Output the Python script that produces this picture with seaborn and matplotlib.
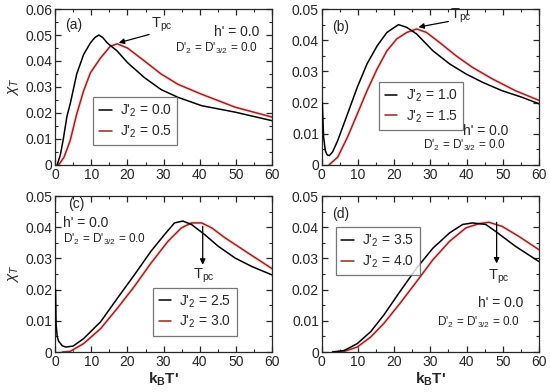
import numpy as np
import pandas as pd
import matplotlib
matplotlib.use("Agg")
import matplotlib.pyplot as plt
from matplotlib.ticker import MultipleLocator, FuncFormatter
import seaborn as sns

# ── data (k_B T' , chi_T) ────────────────────────────────────────────
# (a)
a_t_j00 = [0.6, 1.5, 2.3, 3.3, 4.2, 6.0, 7.9, 9.8, 11.0, 12.1, 13.2, 14.4, 17.2, 20.0, 24.7, 29.3,
           34.0, 40.5, 49.8, 60.0]
a_chi_j00 = [0.0, 0.004, 0.010, 0.0187, 0.0235, 0.035, 0.0425, 0.047, 0.0490, 0.050, 0.0490, 0.047,
             0.0438, 0.0394, 0.0336, 0.029, 0.026, 0.0228, 0.0203, 0.017]
a_t_j05 = [1.0, 2.5, 4.2, 6.0, 7.9, 9.8, 12.6, 15.3, 17.2, 20.0, 24.7, 29.3, 34.0, 40.5, 49.8, 60.0]
a_chi_j05 = [0.0, 0.003, 0.0094, 0.0196, 0.0285, 0.0355, 0.0412, 0.0457, 0.0466, 0.045, 0.040,
             0.035, 0.031, 0.0272, 0.0222, 0.0184]
# (b)
b_t_j10 = [0.15, 0.5, 1.0, 1.5, 2.1, 3.0, 4.4, 7.1, 9.8, 12.5, 15.3, 18.0, 21.2, 23.5, 26.2, 30.7,
           35.3, 39.8, 44.4, 49.8, 55.3, 60.0]
b_chi_j10 = [0.020, 0.009, 0.0045, 0.0032, 0.003, 0.0042, 0.0078, 0.0163, 0.0249, 0.0324, 0.0382,
             0.0425, 0.045, 0.0441, 0.042, 0.0366, 0.0324, 0.0292, 0.0265, 0.0238, 0.0217, 0.0196]
b_t_j15 = [2.0, 4.4, 7.1, 9.8, 12.5, 15.3, 18.0, 20.7, 23.5, 26.2, 28.9, 32.5, 37.1, 41.6, 47.1, 53.5, 60.0]
b_chi_j15 = [0.0, 0.0025, 0.0089, 0.0163, 0.0238, 0.0308, 0.0366, 0.0404, 0.0425, 0.0436, 0.0425,
             0.0393, 0.035, 0.0313, 0.0276, 0.0238, 0.0207]
# (c)
c_t_j25 = [0.15, 0.3, 0.6, 1.0, 2.0, 3.0, 5.0, 7.9, 12.6, 17.2, 21.9, 26.5, 30.2, 33.0, 35.3, 37.7,
           41.4, 45.1, 49.8, 54.4, 60.0]
c_chi_j25 = [0.020, 0.009, 0.005, 0.0035, 0.002, 0.0016, 0.0019, 0.0043, 0.0097, 0.0172, 0.0247,
             0.0323, 0.0376, 0.0414, 0.042, 0.0409, 0.0376, 0.0339, 0.0301, 0.0274, 0.0247]
c_t_j30 = [2.0, 4.2, 7.9, 12.6, 17.2, 21.9, 26.5, 31.2, 34.9, 37.7, 40.5, 43.3, 47.0, 52.6, 60.0]
c_chi_j30 = [0.0, 0.0002, 0.0027, 0.0075, 0.014, 0.021, 0.0285, 0.0355, 0.0398, 0.0414, 0.0414,
             0.0398, 0.0366, 0.0323, 0.0267]
# (d)
d_t_j35 = [3.0, 6.2, 9.8, 13.5, 17.1, 21.6, 26.2, 30.7, 35.3, 38.9, 41.6, 45.3, 48.0, 53.5, 60.0]
d_chi_j35 = [0.0, 0.0005, 0.0027, 0.0065, 0.0118, 0.0194, 0.0269, 0.0333, 0.0382, 0.0409, 0.0414,
             0.0409, 0.0387, 0.0339, 0.029]
d_t_j40 = [3.0, 6.2, 9.8, 13.5, 17.1, 21.6, 26.2, 30.7, 35.3, 39.8, 43.5, 46.2, 49.8, 54.4, 60.0]
d_chi_j40 = [0.0, 0.0002, 0.0016, 0.0048, 0.0091, 0.0156, 0.0226, 0.0296, 0.0355, 0.0398, 0.0412,
             0.0416, 0.0403, 0.0371, 0.0328]

legend_labels = [("0.0", "0.5"), ("1.0", "1.5"), ("2.5", "3.0"), ("3.5", "4.0")]
panel_tags = ["(a)", "(b)", "(c)", "(d)"]
y_tops = [0.06, 0.05, 0.05, 0.05]

BLACK = "black"
RED = "#8e2c18"
HALO = "#ffb6dc"

sns.set_style("ticks")
plt.rcParams["font.family"] = ["Liberation Sans", "DejaVu Sans"]
plt.rcParams["mathtext.fontset"] = "custom"
plt.rcParams["mathtext.rm"] = "Liberation Sans"
plt.rcParams["mathtext.it"] = "Liberation Sans:italic"
plt.rcParams["mathtext.bf"] = "Liberation Sans:bold"
plt.rcParams["font.size"] = 8.5

fig, axes = plt.subplots(2, 2, figsize=(5.5, 3.92), dpi=100)
fig.subplots_adjust(left=0.1, right=0.98, top=0.977, bottom=0.102, wspace=0.228, hspace=0.2)
axes = axes.ravel()

curves = [
    (a_t_j00, a_chi_j00, a_t_j05, a_chi_j05),
    (b_t_j10, b_chi_j10, b_t_j15, b_chi_j15),
    (c_t_j25, c_chi_j25, c_t_j30, c_chi_j30),
    (d_t_j35, d_chi_j35, d_t_j40, d_chi_j40),
]

for i, ax in enumerate(axes):
    tb, cb, tr, cr = curves[i]
    lb, lr = legend_labels[i]
    df_b = pd.DataFrame({"T": tb, "chi": cb})
    df_r = pd.DataFrame({"T": tr, "chi": cr})
    # faint pink error halo behind the red curve
    ax.plot(df_r["T"], df_r["chi"], color=HALO, lw=2.8, alpha=0.45, zorder=1)
    sns.lineplot(data=df_b, x="T", y="chi", ax=ax, color=BLACK, lw=1.1, zorder=3,
                 label=f"J'$_2$ = {lb}")
    sns.lineplot(data=df_r, x="T", y="chi", ax=ax, color=RED, lw=1.1, zorder=2,
                 label=f"J'$_2$ = {lr}")

    ax.set_xlim(0, 60)
    ax.set_ylim(0, y_tops[i])
    ax.xaxis.set_major_locator(MultipleLocator(10))
    ax.xaxis.set_minor_locator(MultipleLocator(5))
    ax.yaxis.set_major_locator(MultipleLocator(0.01))
    ax.yaxis.set_minor_locator(MultipleLocator(0.005))
    ax.yaxis.set_major_formatter(FuncFormatter(lambda v, p: "0" if abs(v) < 1e-9 else f"{v:.2f}"))
    ax.tick_params(which="both", direction="in", top=True, right=True, labelsize=10, pad=2)
    ax.tick_params(which="major", length=4.5, width=0.9)
    ax.tick_params(which="minor", length=2.5, width=0.8)
    for s in ax.spines.values():
        s.set_linewidth(0.9)
    ax.set_xlabel("")
    ax.set_ylabel("")
    ax.text(0.047 if i != 2 else 0.06, 0.898 if i == 0 else (0.948 if i == 2 else 0.884),
            panel_tags[i], transform=ax.transAxes, fontsize=10, va="center", ha="left")

# legends
leg_pos = [(0.177, 0.433), (0.264, 0.532), (0.451, 0.413), (0.064, 0.80)]
for ax, (lx, ly) in zip(axes, leg_pos):
    leg = ax.legend(loc="upper left", bbox_to_anchor=(lx, ly), frameon=True, fancybox=False,
                    fontsize=10, handlelength=0.9, handletextpad=0.6, borderpad=0.4,
                    labelspacing=0.3, borderaxespad=0)
    leg.get_frame().set_edgecolor("#555555")
    leg.get_frame().set_linewidth(0.9)

# h' / D' annotations
hprime = "h' = 0.0"
dprime = "D'$_2$ = D'$_{3/2}$ = 0.0"
axes[0].text(0.94, 0.854, hprime, transform=axes[0].transAxes, ha="right", va="center", fontsize=10)
axes[0].text(0.935, 0.75, dprime, transform=axes[0].transAxes, ha="right", va="center", fontsize=8.5)
axes[1].text(0.86, 0.218, hprime, transform=axes[1].transAxes, ha="right", va="center", fontsize=10)
axes[1].text(0.85, 0.122, dprime, transform=axes[1].transAxes, ha="right", va="center", fontsize=8.5)
axes[2].text(0.035, 0.826, hprime, transform=axes[2].transAxes, ha="left", va="center", fontsize=10)
axes[2].text(0.035, 0.72, dprime, transform=axes[2].transAxes, ha="left", va="center", fontsize=8.5)
axes[3].text(0.93, 0.316, hprime, transform=axes[3].transAxes, ha="right", va="center", fontsize=10)
axes[3].text(0.915, 0.187, dprime, transform=axes[3].transAxes, ha="right", va="center", fontsize=8.5)

# T_pc arrows
tpc = "T$_{\\rm pc}$"
arrow = dict(arrowstyle="-|>", color="black", lw=0.9, mutation_scale=8, shrinkA=0, shrinkB=0)
axes[0].annotate("", xy=(17.6, 0.047), xytext=(26.0, 0.0502), arrowprops=arrow)
axes[0].text(26.5, 0.0505, tpc, fontsize=10.5, ha="left", va="bottom")
axes[1].annotate("", xy=(26.7, 0.0442), xytext=(35.0, 0.046), arrowprops=arrow)
axes[1].text(35.5, 0.0478, tpc, fontsize=10.5, ha="left", va="center")
axes[2].annotate("", xy=(40.8, 0.028), xytext=(40.8, 0.0403), arrowprops=arrow)
axes[2].text(41.0, 0.0245, tpc, fontsize=10.5, ha="center", va="center")
axes[3].annotate("", xy=(48.3, 0.0284), xytext=(48.3, 0.0416), arrowprops=arrow)
axes[3].text(48.8, 0.024, tpc, fontsize=10.5, ha="center", va="center")

for ax in (axes[0], axes[2]):
    ax.set_ylabel(r"$\chi_T$", fontsize=11, labelpad=3)
for ax in (axes[2], axes[3]):
    ax.set_xlabel(r"k$_\mathbf{B}$T'", fontsize=11, fontweight="bold", labelpad=1)

fig.savefig("out.png", dpi=100)
